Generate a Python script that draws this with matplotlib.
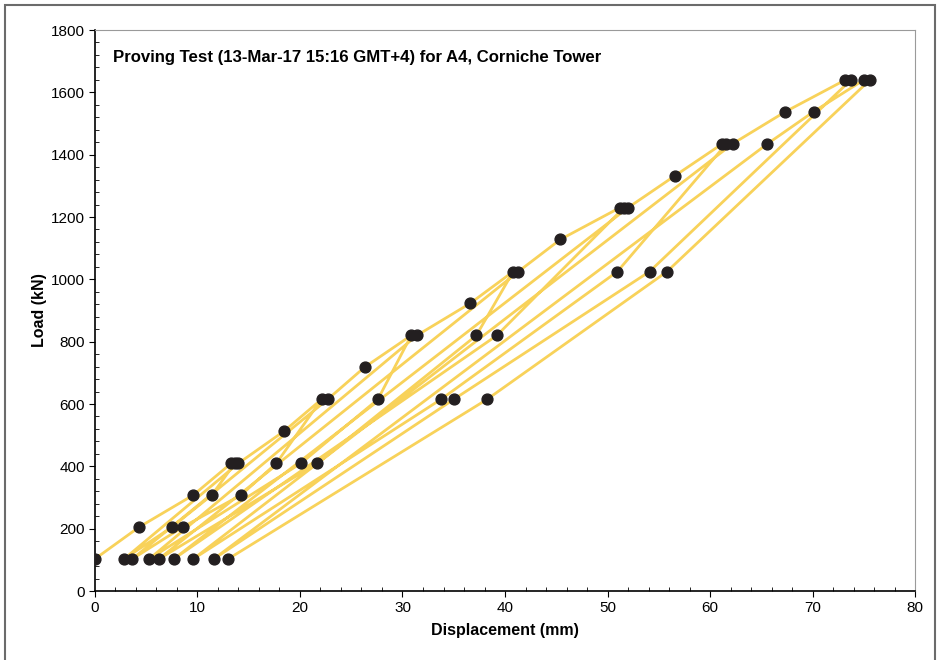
import numpy as np
import matplotlib.pyplot as plt
from matplotlib.patches import Rectangle
from matplotlib.ticker import MultipleLocator

plt.rcParams['font.family'] = ['Liberation Sans', 'DejaVu Sans']

# readings in time order (displacement mm, load kN)
disp = [0.0, 4.3, 9.6, 13.3, 13.65,
        11.4, 7.5, 2.85,
        14.0, 18.45, 22.1,
        17.7, 14.25, 8.55, 3.65,
        22.7, 26.3, 30.85,
        27.6, 20.1, 5.3,
        31.4, 36.6, 40.8,
        37.2, 21.7, 6.25,
        41.3, 45.4, 51.2, 51.6,
        39.2, 7.7,
        52.0, 56.6, 61.2, 61.6,
        50.96, 33.75, 9.6,
        62.2, 67.35, 73.2, 73.75,
        54.1, 35.0, 11.6,
        65.6, 70.1, 75.0, 75.6,
        55.8, 38.25, 13.0]
load = [103, 205, 308, 410, 410,
        308, 205, 103,
        410, 513, 615,
        410, 308, 205, 103,
        615, 718, 820,
        615, 410, 103,
        820, 923, 1025,
        820, 410, 103,
        1025, 1128, 1230, 1230,
        820, 103,
        1230, 1333, 1435, 1435,
        1025, 615, 103,
        1435, 1538, 1640, 1640,
        1025, 615, 103,
        1435, 1538, 1640, 1640,
        1025, 615, 103]

title = 'Proving Test (13-Mar-17 15:16 GMT+4) for A4, Corniche Tower'

fig = plt.figure(figsize=(9.4, 6.6), dpi=100)
ax = fig.add_axes([0.101, 0.1045, 0.8725, 0.85])

ax.plot(disp, load, color='#F8D25A', lw=2.0, zorder=2)
ax.plot(disp, load, ls='none', marker='o', ms=7.8, color='#231F20', zorder=3)

ax.set_xlim(0, 80)
ax.set_ylim(0, 1800)
ax.xaxis.set_major_locator(MultipleLocator(10))
ax.xaxis.set_minor_locator(MultipleLocator(2))
ax.yaxis.set_major_locator(MultipleLocator(200))
ax.yaxis.set_minor_locator(MultipleLocator(40))
ax.tick_params(which='major', direction='out', length=4, width=0.8, labelsize=11, pad=3)
ax.tick_params(which='minor', direction='in', length=3, width=0.6)

for s in ['left', 'bottom']:
    ax.spines[s].set_color('black')
    ax.spines[s].set_linewidth(1.2)
for s in ['top', 'right']:
    ax.spines[s].set_color('#9a9a9a')
    ax.spines[s].set_linewidth(0.8)

ax.set_xlabel('Displacement (mm)', fontsize=11.5, fontweight='bold', labelpad=6)
ax.set_ylabel('Load (kN)', fontsize=11.5, fontweight='bold', labelpad=3)
ax.text(0.022, 0.965, title, transform=ax.transAxes, fontsize=12.1,
        fontweight='bold', va='top', ha='left')

# outer frame of the picture
fig.patches.append(Rectangle((5 / 940, -0.1), 930 / 940, 1.1 - 5 / 660,
                             transform=fig.transFigure, fill=False,
                             edgecolor='#6b6b6b', lw=1.5))

fig.savefig('out.png', dpi=100, facecolor='white')
